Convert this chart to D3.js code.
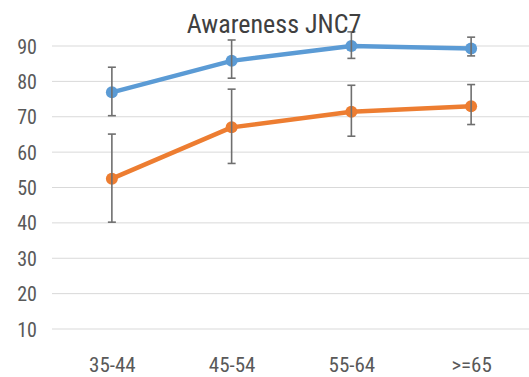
<!DOCTYPE html>
<html lang="en">
<head>
	<meta charset="utf-8">
	<title>Awareness JNC7</title>
	<script src="https://d3js.org/d3.v7.js"></script>
	<style>
		body { margin: 0; background: #fff; }
		text { font-family: "Liberation Sans Narrow", "Roboto Condensed", "Liberation Sans", Arial, sans-serif; }
	</style>
</head>
<body>
	<div id="chart"></div>
	<script>
		// data
		const ageGroups = ["35-44", "45-54", "55-64", ">=65"];
		const yTicks = [10, 20, 30, 40, 50, 60, 70, 80, 90];

		const blueValues = [76.9, 85.8, 90.0, 89.3];
		const blueLow = [70.3, 80.9, 86.5, 87.2];
		const blueHigh = [84.0, 91.7, 94.0, 92.5];

		const orangeValues = [52.5, 67.0, 71.4, 73.0];
		const orangeLow = [40.2, 56.8, 64.5, 67.8];
		const orangeHigh = [65.1, 77.8, 78.9, 79.1];

		const width = 529, height = 377;

		const svg = d3.select("#chart")
			.append("svg")
			.attr("width", width)
			.attr("height", height);

		const x = d3.scalePoint()
			.domain(ageGroups)
			.range([52, 531])
			.padding(0.5);

		const y = d3.scaleLinear()
			.domain([10, 90])
			.range([329, 46]);

		// gridlines
		svg.append("g")
			.selectAll("line")
			.data(yTicks)
			.join("line")
			.attr("x1", 52)
			.attr("x2", width)
			.attr("y1", d => y(d))
			.attr("y2", d => y(d))
			.attr("stroke", "#d9d9d9")
			.attr("stroke-width", 1);

		// y axis labels
		const yAxis = svg.append("g")
			.attr("transform", "translate(37,0)")
			.call(d3.axisLeft(y).tickValues(yTicks).tickSize(0).tickPadding(0));
		yAxis.select(".domain").remove();
		yAxis.selectAll("text")
			.attr("fill", "#595959")
			.style("font-size", "20px")
			.attr("dy", "0.35em");

		// x axis labels
		const xAxis = svg.append("g")
			.attr("transform", "translate(0,357)")
			.call(d3.axisBottom(x).tickSize(0).tickPadding(0));
		xAxis.select(".domain").remove();
		xAxis.selectAll("text")
			.attr("fill", "#595959")
			.style("font-size", "21px")
			.attr("dy", "0.71em");

		const series = [
			{ name: "blue", color: "#5b9bd5", values: blueValues, low: blueLow, high: blueHigh },
			{ name: "orange", color: "#ed7d31", values: orangeValues, low: orangeLow, high: orangeHigh }
		];

		const line = d3.line()
			.x((d, i) => x(ageGroups[i]))
			.y(d => y(d));

		series.forEach(s => {
			svg.append("path")
				.datum(s.values)
				.attr("d", line)
				.attr("fill", "none")
				.attr("stroke", s.color)
				.attr("stroke-width", 4.5)
				.attr("stroke-linejoin", "round");

			svg.append("g")
				.selectAll("circle")
				.data(s.values)
				.join("circle")
				.attr("cx", (d, i) => x(ageGroups[i]))
				.attr("cy", d => y(d))
				.attr("r", 6)
				.attr("fill", s.color);

			// error bars
			const eb = svg.append("g")
				.attr("stroke", "#6f6f6f")
				.attr("stroke-width", 1.6);
			ageGroups.forEach((g, i) => {
				const cx = x(g);
				eb.append("line")
					.attr("x1", cx).attr("x2", cx)
					.attr("y1", y(s.low[i])).attr("y2", y(s.high[i]));
				[s.low[i], s.high[i]].forEach(v => {
					eb.append("line")
						.attr("x1", cx - 4).attr("x2", cx + 4)
						.attr("y1", y(v)).attr("y2", y(v));
				});
			});
		});

		// title
		svg.append("text")
			.attr("x", 274)
			.attr("y", 33)
			.attr("text-anchor", "middle")
			.attr("fill", "#404040")
			.style("font-size", "26px")
			.text("Awareness JNC7");
	</script>
</body>
</html>
